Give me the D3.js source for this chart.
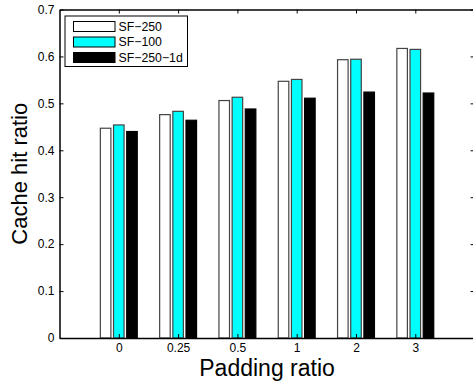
<!DOCTYPE html>
<html>
<head>
<meta charset="utf-8">
<script src="https://cdn.jsdelivr.net/npm/d3@7"></script>
<style>
  html, body { margin: 0; padding: 0; background: #fff; }
  svg { display: block; font-family: "Liberation Sans", Arial, Helvetica, sans-serif; }
</style>
</head>
<body>
<svg id="chart" width="473" height="382"></svg>
<script>
// Padding ratio categories and cache hit ratio per configuration
const categories = ["0", "0.25", "0.5", "1", "2", "3"];
const seriesNames = ["SF\u2212250", "SF\u2212100", "SF\u2212250\u22121d"];
const sf250   = [0.447, 0.476, 0.506, 0.547, 0.593, 0.617];
const sf100   = [0.454, 0.483, 0.513, 0.551, 0.594, 0.615];
const sf250_1d = [0.440, 0.464, 0.488, 0.511, 0.524, 0.522];
const yTicks = [0, 0.1, 0.2, 0.3, 0.4, 0.5, 0.6, 0.7];
const seriesColors = ["#ffffff", "#00ffff", "#000000"];

const series = [sf250, sf100, sf250_1d];

const svg = d3.select("#chart");

const plotLeft = 59.5, plotRight = 474.6, plotTop = 9.5, plotBottom = 338;

// Groups sit at positions 1..n on a [0, n+1] axis
const x = d3.scaleLinear().domain([0, categories.length + 1]).range([plotLeft, plotRight]);
const y = d3.scaleLinear().domain([0, 0.7]).range([plotBottom, plotTop]);

const nb = series.length;
const groupWidth = Math.min(0.8, nb / (nb + 1.5));
const barW = groupWidth / nb * 0.8;
const offset = i => -groupWidth / 2 + (2 * i + 1) * groupWidth / (2 * nb);

// Bars
series.forEach((vals, si) => {
  svg.append("g").selectAll("rect")
    .data(vals)
    .join("rect")
    .attr("x", (d, i) => x(i + 1 + offset(si) - barW / 2))
    .attr("width", x(barW) - x(0))
    .attr("y", d => y(d))
    .attr("height", d => y(0) - y(d))
    .attr("fill", seriesColors[si])
    .attr("stroke", si === 2 ? "#000" : "#444")
    .attr("stroke-width", 1.2);
});

// Axes with inward ticks, mirrored on the top and right
const tickLen = 4;
const catPos = categories.map((c, i) => i + 1);

const xBottom = d3.axisBottom(x).tickValues(catPos).tickFormat((d, i) => categories[i])
  .tickSizeInner(-tickLen).tickSizeOuter(0).tickPadding(5);
const xTop = d3.axisTop(x).tickValues(catPos).tickFormat("")
  .tickSizeInner(-tickLen).tickSizeOuter(0);
const yLeft = d3.axisLeft(y).tickValues(yTicks).tickFormat(d => d === 0 ? "0" : d3.format(".1f")(d))
  .tickSizeInner(-tickLen).tickSizeOuter(0).tickPadding(5);
const yRight = d3.axisRight(y).tickValues(yTicks).tickFormat("")
  .tickSizeInner(-tickLen).tickSizeOuter(0);

function style(g) {
  g.select(".domain").attr("stroke", "#000").attr("stroke-width", 1.5);
  g.selectAll(".tick line").attr("stroke", "#000").attr("stroke-width", 1);
  g.selectAll(".tick text").attr("fill", "#000").style("font-size", "12px")
    .style("font-family", "'Liberation Sans', Arial, Helvetica, sans-serif");
}

svg.append("g").attr("transform", `translate(0,${plotBottom})`).call(xBottom).call(style);
svg.append("g").attr("transform", `translate(0,${plotTop})`).call(xTop).call(style);
svg.append("g").attr("transform", `translate(${plotLeft},0)`).call(yLeft).call(style);
svg.append("g").attr("transform", `translate(${plotRight},0)`).call(yRight).call(style);

// Axis titles
svg.append("text")
  .attr("x", (plotLeft + plotRight) / 2).attr("y", 376)
  .attr("text-anchor", "middle")
  .style("font-size", "23px")
  .text("Padding ratio");

svg.append("text")
  .attr("transform", `translate(27,${(plotTop + plotBottom) / 2}) rotate(-90)`)
  .attr("text-anchor", "middle")
  .style("font-size", "22px")
  .text("Cache hit ratio");

// Legend
const lg = svg.append("g");
lg.append("rect")
  .attr("x", 65).attr("y", 16).attr("width", 122.5).attr("height", 50.5)
  .attr("fill", "#fff").attr("stroke", "#000").attr("stroke-width", 1);
seriesNames.forEach((name, i) => {
  const cy = 26.5 + i * 15.5;
  lg.append("rect")
    .attr("x", 73.5).attr("y", cy - 5).attr("width", 41.5).attr("height", 10)
    .attr("fill", seriesColors[i]).attr("stroke", "#000").attr("stroke-width", 1);
  lg.append("text")
    .attr("x", 118.5).attr("y", cy + 4.3)
    .style("font-size", "12.3px")
    .text(name);
});
</script>
</body>
</html>
